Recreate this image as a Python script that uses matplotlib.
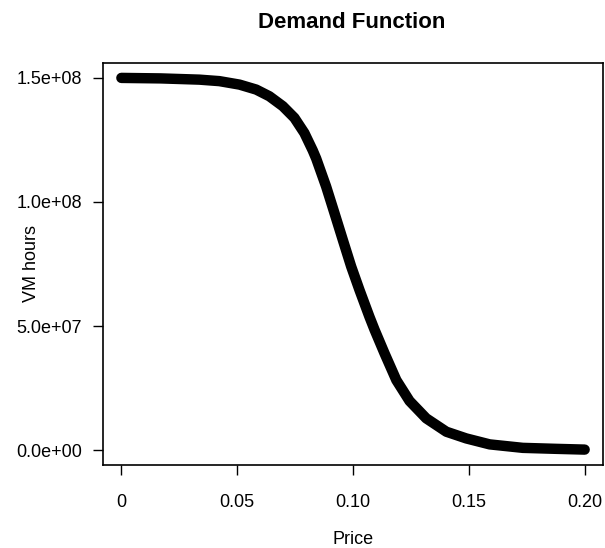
import matplotlib
matplotlib.use('Agg')
from matplotlib import pyplot

# Demand curve (price, VM hours)
price = [0.0, 0.017, 0.0337, 0.0423, 0.0510, 0.0582, 0.0639, 0.0697, 0.0747,
         0.0790, 0.0826, 0.0841, 0.0884, 0.0920, 0.0956, 0.0992, 0.1028,
         0.1071, 0.1093, 0.1136, 0.1187, 0.1244, 0.1316, 0.1403, 0.1489,
         0.1590, 0.1733, 0.1878, 0.2]
vm_hours = [150.0e6, 149.8e6, 149.3e6, 148.7e6, 147.3e6, 145.3e6, 142.6e6,
            138.6e6, 133.9e6, 127.8e6, 120.8e6, 117.5e6, 106.2e6, 95.5e6,
            84.7e6, 74.0e6, 64.5e6, 53.7e6, 48.5e6, 39.0e6, 28.2e6, 19.8e6,
            12.8e6, 7.4e6, 4.7e6, 2.3e6, 0.9e6, 0.5e6, 0.2e6]

xticks = [0, 0.05, 0.10, 0.15, 0.20]
xtick_labels = ['0', '0.05', '0.10', '0.15', '0.20']
yticks = [0, 5e7, 1e8, 1.5e8]
ytick_labels = ['0.0e+00', '5.0e+07', '1.0e+08', '1.5e+08']

pyplot.rcParams['font.family'] = ['Liberation Sans', 'DejaVu Sans']

f1 = pyplot.figure(figsize=(6.05, 5.48), dpi=100)
ax0 = f1.add_axes([0.170, 0.1515, 0.827, 0.7335])

ax0.plot(price, vm_hours, color='k', lw=7.5, solid_capstyle='round',
         solid_joinstyle='round')

# R-style 4% padding on both axes
ax0.set_xlim([-0.008, 0.208])
ax0.set_ylim([-6e6, 1.56e8])
ax0.set_xticks(xticks)
ax0.set_xticklabels(xtick_labels)
ax0.set_yticks(yticks)
ax0.set_yticklabels(ytick_labels)
ax0.tick_params(direction='out', length=7, width=1, labelsize=13, colors='k')
ax0.tick_params(axis='x', pad=14)
ax0.tick_params(axis='y', pad=8)
for s in ax0.spines.values():
    s.set_linewidth(1.2)

# Labels placed in figure pixels, as in the reference
f1.text(353 / 605, 1 - 540 / 548, 'Price', fontsize=13, ha='center', va='center')
f1.text(31 / 605, 1 - 263 / 548, 'VM hours', fontsize=13, rotation=90,
        ha='center', va='center')
f1.text(352 / 605, 1 - 22 / 548, 'Demand Function', fontsize=16,
        fontweight='bold', ha='center', va='center')

pyplot.savefig('out.png', dpi=100)
